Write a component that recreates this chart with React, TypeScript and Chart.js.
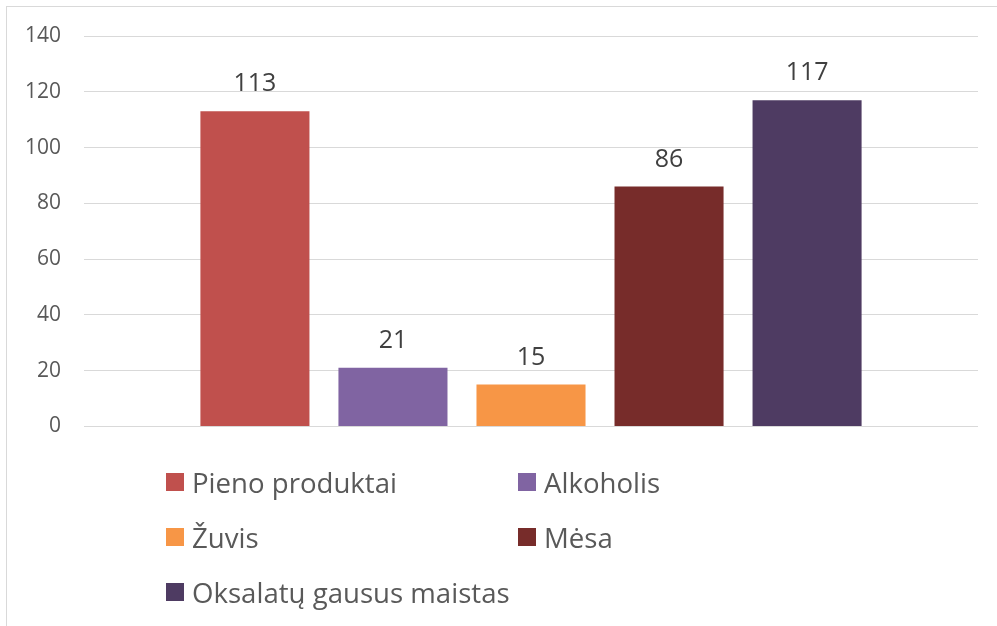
import React, { useEffect, useRef } from "react";
import { Chart, registerables } from "chart.js";

Chart.register(...registerables);

const seriesNames = ["Pieno produktai", "Alkoholis", "Žuvis", "Mėsa", "Oksalatų gausus maistas"];
const seriesValues = [113, 21, 15, 86, 117];
const seriesColors = ["#C0504D", "#8064A2", "#F79646", "#772C2A", "#4E3B62"];
const categories = [""];
const yMin = 0;
const yMax = 140;
const yStep = 20;

const FONT = "'Open Sans', sans-serif";

const dataLabelPlugin = {
  id: "dataLabels",
  afterDatasetsDraw(chart: any) {
    const ctx = chart.ctx;
    ctx.save();
    ctx.font = `25px ${FONT}`;
    ctx.fillStyle = "#404040";
    ctx.textAlign = "center";
    ctx.textBaseline = "alphabetic";
    chart.data.datasets.forEach((ds: any, i: number) => {
      const meta = chart.getDatasetMeta(i);
      meta.data.forEach((el: any, j: number) => {
        ctx.fillText(String(ds.data[j]), el.x, el.y - 20);
      });
    });
    ctx.restore();
  },
};

export default function App() {
  const ref = useRef<HTMLCanvasElement>(null);

  useEffect(() => {
    if (!ref.current) return;
    const chart = new Chart(ref.current, {
      type: "bar",
      data: {
        labels: categories,
        datasets: seriesNames.map((name, i) => ({
          label: name,
          data: [seriesValues[i]],
          backgroundColor: seriesColors[i],
          borderWidth: 0,
          categoryPercentage: 0.772,
          barPercentage: 0.79,
        })),
      },
      options: {
        responsive: false,
        animation: false,
        layout: { padding: { left: 0, right: 19, top: 36, bottom: 24 } },
        plugins: {
          legend: { display: false },
          tooltip: { enabled: false },
        },
        scales: {
          x: {
            display: false,
          },
          y: {
            min: yMin,
            max: yMax,
            ticks: {
              stepSize: yStep,
              color: "#595959",
              font: { family: FONT, size: 21 },
              padding: 23,
            },
            grid: { color: "#D9D9D9", lineWidth: 1, drawTicks: false },
            border: { display: false },
            afterFit: (scale: any) => {
              scale.width = 84;
            },
          },
        },
      },
      plugins: [dataLabelPlugin],
    });
    return () => chart.destroy();
  }, []);

  return (
    <div
      style={{
        position: "fixed",
        left: 0,
        top: 0,
        width: 997,
        height: 626,
        overflow: "hidden",
        background: "#fff",
      }}
    >
      <div
        style={{
          position: "absolute",
          left: 6,
          top: 6,
          width: 1100,
          height: 700,
          border: "1px solid #D9D9D9",
          boxSizing: "border-box",
        }}
      />
      <canvas
        ref={ref}
        width={997}
        height={462}
        style={{ position: "absolute", left: 0, top: 0, width: 997, height: 462 }}
      />
      <div
        style={{
          position: "absolute",
          left: 166,
          top: 454.5,
          display: "grid",
          gridTemplateColumns: "352px 352px",
          gridAutoRows: "55px",
          fontFamily: FONT,
          fontSize: 27.6,
          color: "#595959",
        }}
      >
        {seriesNames.map((name, i) => (
          <div key={name} style={{ display: "flex", alignItems: "center", whiteSpace: "nowrap" }}>
            <span
              style={{
                display: "inline-block",
                width: 18,
                height: 18,
                background: seriesColors[i],
                marginRight: 8,
                flexShrink: 0,
              }}
            />
            <span>{name}</span>
          </div>
        ))}
      </div>
    </div>
  );
}
